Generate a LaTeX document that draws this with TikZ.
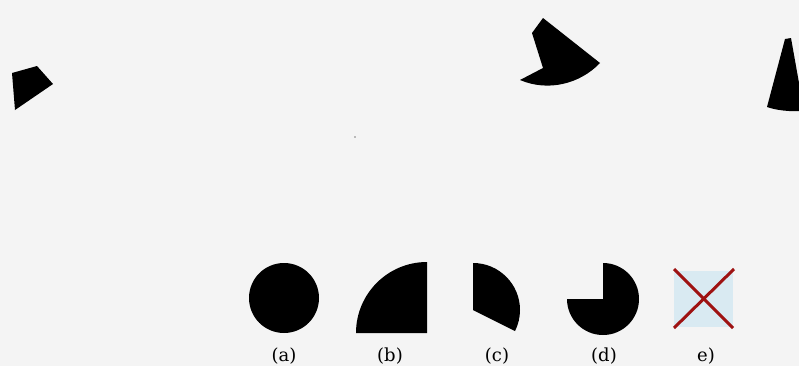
\documentclass[tikz,border=0pt]{standalone}
\usepackage{fontspec}
\setmainfont{DejaVu Serif}
\usetikzlibrary{positioning}
\definecolor{paper}{RGB}{244,244,244}
\definecolor{crossred}{RGB}{158,18,18}
\definecolor{boxblue}{RGB}{217,234,242}

\begin{document}
\begin{tikzpicture}[x=0.5pt,y=0.5pt]
  \tikzstyle{piece}=[fill=black,draw=none]
  \tikzstyle{lbl}=[inner sep=0pt,font=\fontsize{9}{10}\selectfont]
  \tikzstyle{cross}=[crossred,line width=1.5pt]

  % -- page --
  \path[use as bounding box] (0,0) rectangle (799,366);
  \fill[paper] (0,0) rectangle (799,366);
  \clip (0,0) rectangle (799,366);

  % -- scattered pieces --
  \fill[piece] (12,293) -- (37,300) -- (53,282) -- (15,256) -- cycle;
  \fill[piece] (543,348) -- (532,333) -- (543,298) -- (520,286)
    .. controls (548,274) and (580,282) .. (600,303) -- cycle;
  \fill[piece] (785,327) -- (791,328) -- (804,255)
    .. controls (790,254) and (775,256) .. (767,259) -- cycle;
  \fill[gray] (355,229) circle[radius=0.8];

  % -- answers --
  \fill[piece] (284,68) circle[radius=35];
  \fill[piece] (427,33) -- (356,33) arc[start angle=180,end angle=90,radius=71] -- cycle;
  \fill[piece] (473,56) -- (473,103) arc[start angle=90,end angle=-26.6,radius=47] -- cycle;
  \fill[piece] (603,67) -- (603,103) arc[start angle=90,end angle=-180,radius=36] -- cycle;
  \fill[boxblue] (674,39) rectangle (733,95);
  \coordinate (eul) at (674,97);
  \coordinate (eur) at (734,97);
  \coordinate (ell) at (674,38);
  \coordinate (elr) at (733,38);
  \draw[cross] (eul) -- (elr);
  \draw[cross] (eur) -- (ell);

  % -- labels --
  \node[lbl] (la) at (284,10) {(a)};
  \node[lbl] (lb) at (390,10) {(b)};
  \node[lbl] (lc) at (497,10) {(c)};
  \node[lbl] (ld) at (604,10) {(d)};
  \node[lbl] (le) at (706,10) {e)};
\end{tikzpicture}
\end{document}
